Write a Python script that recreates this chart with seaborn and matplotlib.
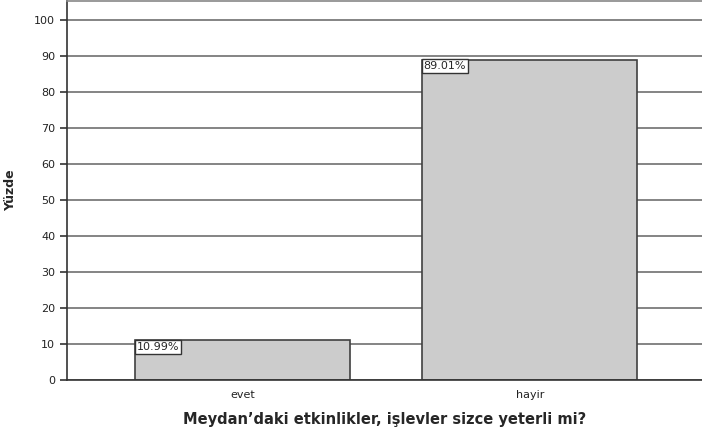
# Bar chart: Meydan'daki etkinlikler yeterli mi?
import matplotlib
matplotlib.use("Agg")
import matplotlib.pyplot as plt
import seaborn as sns
import pandas as pd

# data
categories = ["evet", "hayir"]
percentages = [10.99, 89.01]
yticks = [0, 10, 20, 30, 40, 50, 60, 70, 80, 90, 100]

df = pd.DataFrame({"cevap": categories, "yuzde": percentages})

sns.set_style("white")
plt.rcParams["font.family"] = ["DejaVu Sans"]

fig = plt.figure(figsize=(7.02, 4.30), dpi=100)
ax = fig.add_axes([67 / 702, 50 / 430, 1 - 67 / 702, 379 / 430])

# grid lines behind bars
for t in yticks:
    ax.axhline(t, color="#707070", lw=1.2, zorder=0)

sns.barplot(data=df, x="cevap", y="yuzde", color="#cccccc",
            edgecolor="#404040", linewidth=1.2, width=0.75,
            saturation=1, ax=ax, zorder=2)

ax.set_xlim(-0.613, 1.6)
ax.set_ylim(0, 105.3)
ax.set_yticks(yticks)
ax.set_yticklabels([str(t) for t in yticks], fontsize=8, color="#222222")
ax.tick_params(axis="x", labelsize=8, length=5, width=1.2, color="#333333",
               colors="#222222", pad=2)
ax.tick_params(axis="y", length=5, width=1.2, color="#333333", left=True)

ax.spines["right"].set_visible(False)
ax.spines["top"].set_color("#888888")
ax.spines["top"].set_linewidth(1.2)
ax.spines["left"].set_color("#333333")
ax.spines["left"].set_linewidth(1.2)
ax.spines["bottom"].set_color("#333333")
ax.spines["bottom"].set_linewidth(1.2)

# value labels in the top-left corner of each bar
for patch, val in zip(ax.patches, percentages):
    ax.text(patch.get_x() + 0.004, val - 0.4, f"{val:.2f}%",
            ha="left", va="top", fontsize=8, zorder=3,
            bbox=dict(boxstyle="square,pad=0.15", fc="white",
                      ec="#333333", lw=1))

ax.set_xlabel("Meydan\u2019daki etkinlikler, işlevler sizce yeterli mi?",
              fontsize=10.5, fontweight="bold", labelpad=9)
ax.set_ylabel("Yüzde", fontsize=9, fontweight="bold", labelpad=12)

fig.savefig("out.png", dpi=100)
